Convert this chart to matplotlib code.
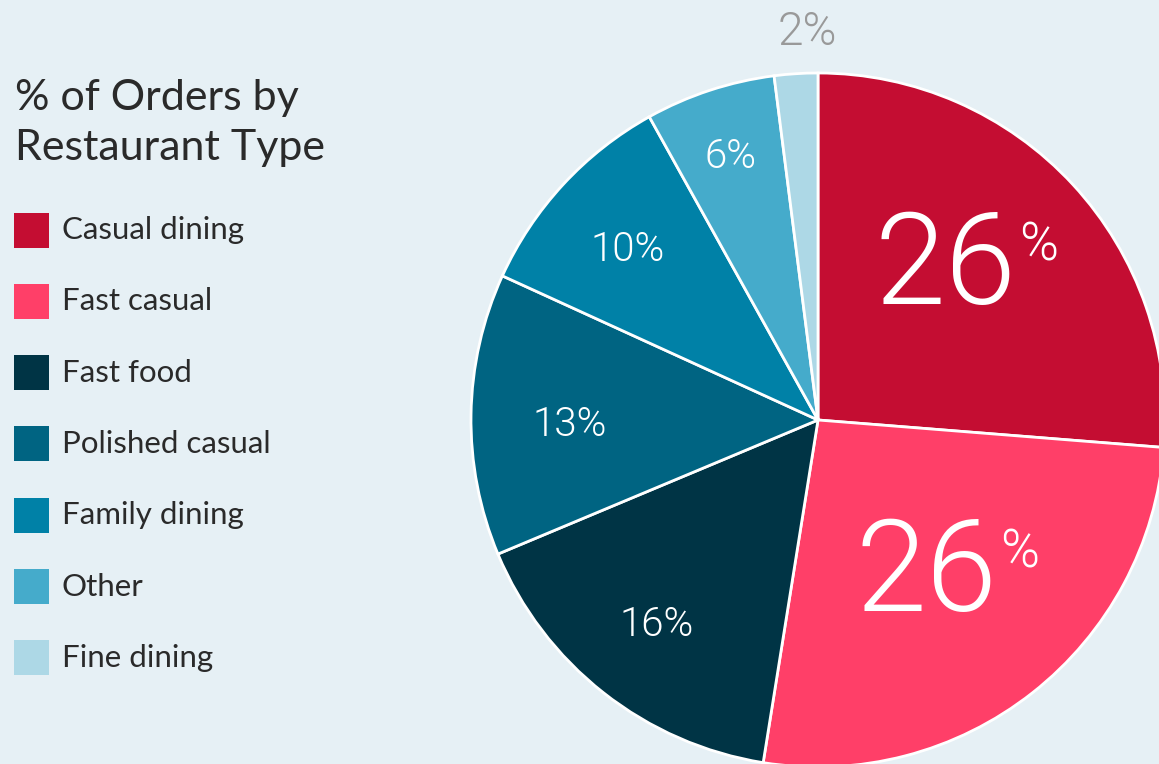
import numpy as np
import matplotlib.pyplot as plt
from matplotlib.patches import Rectangle

# Share of orders by restaurant type
types = ['Casual dining', 'Fast casual', 'Fast food', 'Polished casual',
         'Family dining', 'Other', 'Fine dining']
shares = [26, 26, 16, 13, 10, 6, 2]
colors = ['#C40D32', '#FF3F68', '#003445', '#006482', '#0081A7', '#45ABCB', '#ADD8E6']

bg = '#E6F0F5'
fig = plt.figure(figsize=(11.59, 7.64), dpi=100, facecolor=bg)

# pie axes: centre near (818, 420) px, radius ~347 px
cx, cy, r = 818, 420, 347
W, H = 1159, 764
ax = fig.add_axes([(cx - r) / W, (H - cy - r) / H, 2 * r / W, 2 * r / H])
ax.set_facecolor(bg)
ax.axis('off')

wedges, _ = ax.pie(shares, colors=colors, startangle=90, counterclock=False,
                   radius=1.0, wedgeprops=dict(edgecolor='white', linewidth=2))
ax.set_xlim(-1, 1)
ax.set_ylim(-1, 1)
ax.set_aspect('equal')

num_font = dict(fontfamily='Roboto', fontweight=300)

# label placement per slice: radius (fraction of pie), angle tweak, vertical nudge
label_r = [0.645, 0.612, 0.75, 0.715, 0.745, 0.81, 1.125]
label_da = [0, -5, 0, 1.5, 0, 0, 2]
label_dy = [0, 0, 0, -0.045, -0.015, -0.012, -0.006]
label_fs = [92, 92, 29, 29, 29, 29, 33]
for w, v, lr, da, dy, fs in zip(wedges, shares, label_r, label_da, label_dy, label_fs):
    mid = np.deg2rad((w.theta1 + w.theta2) / 2 - da)
    x, y = lr * np.cos(mid), lr * np.sin(mid) + dy
    if v >= 20:
        # big number with small raised percent sign
        ax.text(x - 0.107, y - 0.003, str(v), color='white', fontsize=fs,
                ha='center', va='center', clip_on=False, **num_font)
        ax.text(x - 0.107 + 0.27, y + 0.064, '%', color='white', fontsize=38,
                ha='center', va='center', clip_on=False, **num_font)
    else:
        col = '#999999' if lr > 1 else 'white'
        ax.text(x, y, f'{v}%', color=col, fontsize=fs, ha='center',
                va='center', clip_on=False, **num_font)

# title and legend on the left
fig.text(15 / W, 1 - 98 / H, '% of Orders by', fontsize=31, fontfamily='Lato',
         color='#2a2a2a', va='center', ha='left')
fig.text(15 / W, 1 - 148 / H, 'Restaurant Type', fontsize=31, fontfamily='Lato',
         color='#2a2a2a', va='center', ha='left')

for i, (name, c) in enumerate(zip(types, colors)):
    yc = 230 + i * 71.3
    fig.patches.append(Rectangle((14 / W, 1 - (yc + 17.5) / H), 35 / W, 35 / H,
                                 transform=fig.transFigure, facecolor=c,
                                 edgecolor='none'))
    fig.text(62 / W, 1 - yc / H, name, fontsize=22.5, fontfamily='Lato',
             color='#2a2a2a', va='center', ha='left')

fig.savefig('out.png', dpi=100, facecolor=bg)
